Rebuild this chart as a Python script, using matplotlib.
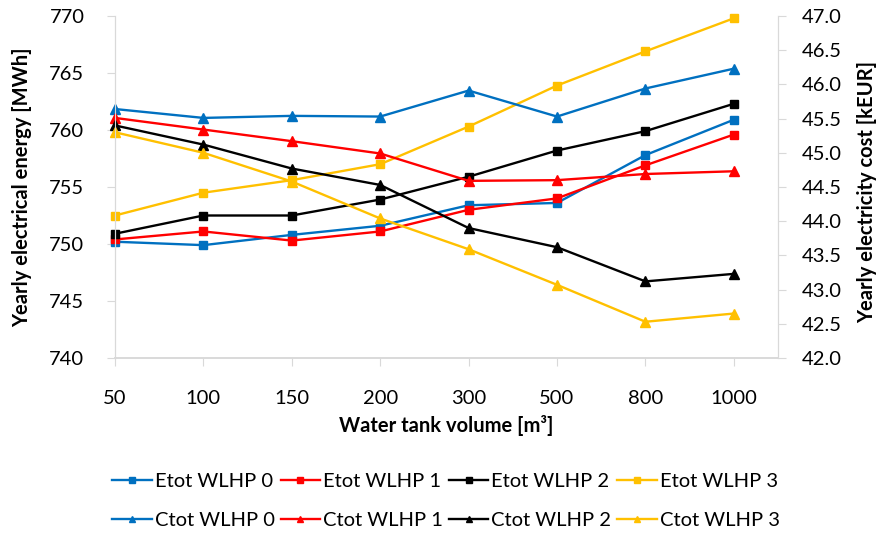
import numpy as np
import matplotlib.pyplot as plt
from matplotlib.ticker import FormatStrFormatter

plt.rcParams['font.family'] = ['Lato', 'DejaVu Sans']

# Tank volumes [m3] (categorical axis)
volumes = ['50', '100', '150', '200', '300', '500', '800', '1000']

# Yearly electrical energy [MWh]
etot_0 = [750.2, 749.9, 750.8, 751.6, 753.4, 753.6, 757.8, 760.9]
etot_1 = [750.4, 751.1, 750.3, 751.1, 753.0, 754.0, 756.9, 759.6]
etot_2 = [750.9, 752.5, 752.5, 753.9, 755.9, 758.2, 759.9, 762.3]
etot_3 = [752.5, 754.5, 755.6, 757.0, 760.3, 763.9, 766.9, 769.8]

# Yearly electricity cost [kEUR]
ctot_0 = [45.64, 45.51, 45.54, 45.53, 45.91, 45.53, 45.94, 46.23]
ctot_1 = [45.51, 45.34, 45.17, 44.99, 44.59, 44.60, 44.69, 44.73]
ctot_2 = [45.40, 45.12, 44.77, 44.53, 43.90, 43.62, 43.12, 43.23]
ctot_3 = [45.30, 45.00, 44.58, 44.04, 43.59, 43.07, 42.53, 42.65]

colors = ['#0070C0', '#FF0000', '#000000', '#FFC000']
etot = [etot_0, etot_1, etot_2, etot_3]
ctot = [ctot_0, ctot_1, ctot_2, ctot_3]

x = np.arange(len(volumes))
fs = 14.5
grey = '#D9D9D9'

fig = plt.figure(figsize=(8.81, 5.35), dpi=100)
ax = fig.add_axes([115/881., 1-358/535., 663/881., 342/535.])
ax2 = ax.twinx()

handles = []
for i in range(4):
    he, = ax.plot(x, etot[i], color=colors[i], linewidth=1.7, marker='s', markersize=5.5,
                  clip_on=False, label='Etot WLHP %d' % i)
    hc, = ax2.plot(x, ctot[i], color=colors[i], linewidth=1.7, marker='^', markersize=6.5,
                   clip_on=False, label='Ctot WLHP %d' % i)
    handles += [he, hc]

ax.set_xlim(0, 7.5)
ax.set_ylim(740, 770)
ax2.set_ylim(42, 47)
ax.set_xticks(x)
ax.set_xticklabels(volumes)
ax.set_yticks(np.arange(740, 771, 5))
ax2.set_yticks(np.arange(42, 47.01, 0.5))
ax2.yaxis.set_major_formatter(FormatStrFormatter('%.1f'))

for a in (ax, ax2):
    a.spines['top'].set_visible(False)
    a.spines['left'].set_color(grey)
    a.spines['right'].set_color(grey)
    a.spines['bottom'].set_color(grey)
    a.spines['bottom'].set_linewidth(1.2)
ax.tick_params(axis='y', length=6, color=grey, pad=16, labelsize=fs)
ax.tick_params(axis='x', length=6, color=grey, pad=17, labelsize=fs)
ax2.tick_params(axis='y', length=6, color=grey, pad=11, labelsize=fs)

# axis titles placed in figure pixels
fig.text(446/881., 1-426/535., 'Water tank volume [m³]', fontsize=fs, fontweight='bold',
         ha='center', va='center')
fig.text(22/881., 1-187/535., 'Yearly electrical energy [MWh]', fontsize=fs, fontweight='bold',
         ha='center', va='center', rotation=90)
fig.text(867/881., 1-192/535., 'Yearly electricity cost [kEUR]', fontsize=fs, fontweight='bold',
         ha='center', va='center', rotation=90)

fig.legend(handles=handles, loc='center', bbox_to_anchor=(446/881., 1-501/535.), ncol=4,
           frameon=False, fontsize=fs, handlelength=1.95, handletextpad=0.15,
           columnspacing=0.3, labelspacing=1.05, markerscale=0.7)

plt.savefig('out.png', dpi=100)
